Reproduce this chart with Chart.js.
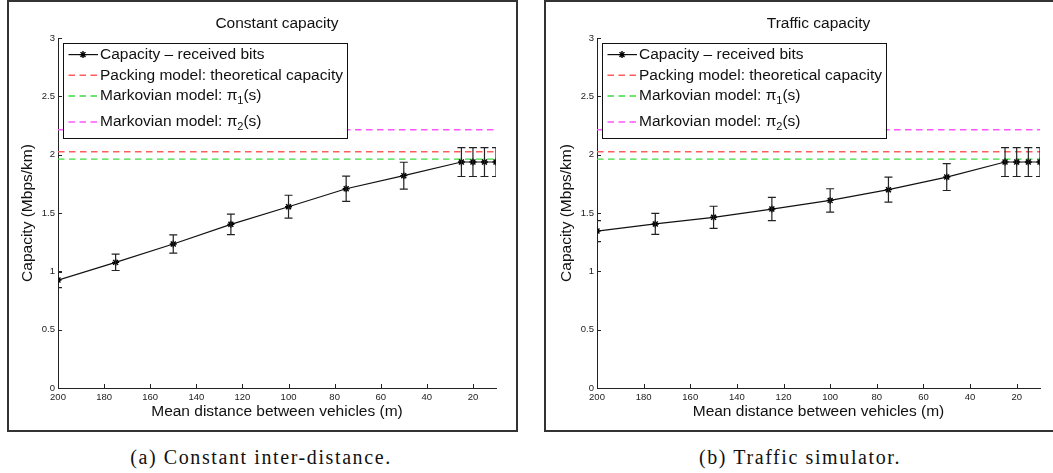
<!DOCTYPE html>
<html>
<head>
<meta charset="utf-8">
<script src="https://cdn.jsdelivr.net/npm/chart.js@4.4.1/dist/chart.umd.min.js"></script>
<style>
  body { margin:0; background:#fff; width:1053px; height:473px; overflow:hidden; position:relative; }
  .panel { position:absolute; top:0; height:432px; border:2px solid #333; box-sizing:border-box; background:#fff; }
  .panel canvas { position:absolute; left:0; top:0; }
  .caption { position:absolute; top:446px; font-family:"Liberation Serif", serif; font-size:20px; letter-spacing:1.6px;
             transform:translateX(-50%); white-space:nowrap; color:#111; }
</style>
</head>
<body>
<div class="panel" style="left:7px;width:511px;"><canvas id="chartA" width="507" height="428"></canvas></div>
<div class="panel" style="left:544px;width:520px;"><canvas id="chartB" width="507" height="428"></canvas></div>
<div class="caption" style="left:261px;">(a) Constant inter-distance.</div>
<div class="caption" style="left:800px;">(b) Traffic simulator.</div>
<script>
// mean distance between vehicles (m)
const distances = [200, 175, 150, 125, 100, 75, 50, 25, 20, 15, 10];

// (a) constant inter-distance
const constCapacity = [0.925, 1.077, 1.234, 1.403, 1.554, 1.708, 1.82, 1.937, 1.937, 1.937, 1.937];
const constError    = [0.065, 0.07, 0.078, 0.088, 0.098, 0.108, 0.115, 0.124, 0.124, 0.124, 0.124];

// (b) traffic simulator
const trafficCapacity = [1.345, 1.406, 1.463, 1.534, 1.608, 1.70, 1.808, 1.937, 1.937, 1.937, 1.937];
const trafficError    = [0.09, 0.09, 0.095, 0.1, 0.1, 0.107, 0.115, 0.124, 0.124, 0.124, 0.124];

// model levels
const packingCapacity = 2.025;
const markov1Capacity = 1.962;
const markov2Capacity = 2.214;

const xTicks = [200, 180, 160, 140, 120, 100, 80, 60, 40, 20];
const yTicks = [0, 0.5, 1, 1.5, 2, 2.5, 3];

const labels = ['Capacity \u2013 received bits', 'Packing model: theoretical capacity',
                'Markovian model: \u03c0\u2081(s)', 'Markovian model: \u03c0\u2082(s)'];

const FONT = '"Liberation Sans", Arial, sans-serif';
const SUBS = { '\u2081': '1', '\u2082': '2' };

// draws text with unicode subscripts lowered, returns width
function richText(ctx, text, x, y, draw) {
  let w = 0;
  for (const ch of text) {
    const sub = SUBS[ch];
    ctx.font = sub ? '11px ' + FONT : '15.5px ' + FONT;
    const c = sub || ch;
    if (draw) ctx.fillText(c, x + w, sub ? y + 5 : y);
    w += ctx.measureText(c).width;
  }
  return w;
}

const framePlugin = {
  id: 'frame',
  afterDatasetsDraw(chart, args, opts) {
    const ctx = chart.ctx, xs = chart.scales.x, ys = chart.scales.y, a = chart.chartArea;

    // error bars
    ctx.save();
    ctx.beginPath();
    ctx.rect(a.left, a.top - 1, a.right - a.left, a.bottom - a.top + 2);
    ctx.clip();
    ctx.strokeStyle = '#222';
    ctx.lineWidth = 1.2;
    opts.values.forEach((v, i) => {
      const px = xs.getPixelForValue(distances[i]);
      const t = ys.getPixelForValue(v + opts.errors[i]);
      const b = ys.getPixelForValue(v - opts.errors[i]);
      ctx.beginPath();
      ctx.moveTo(px, t); ctx.lineTo(px, b);
      ctx.moveTo(px - 4, t); ctx.lineTo(px + 4, t);
      ctx.moveTo(px - 4, b); ctx.lineTo(px + 4, b);
      ctx.stroke();
    });
    ctx.restore();

    // inward tick marks
    ctx.save();
    ctx.strokeStyle = '#222';
    ctx.lineWidth = 1;
    ctx.beginPath();
    xTicks.forEach(v => {
      const px = Math.round(xs.getPixelForValue(v)) + 0.5;
      ctx.moveTo(px, a.bottom); ctx.lineTo(px, a.bottom - 4);
    });
    yTicks.forEach(v => {
      const py = Math.round(ys.getPixelForValue(v)) + 0.5;
      ctx.moveTo(a.left, py); ctx.lineTo(a.left + 4, py);
    });
    ctx.stroke();

    // legend
    const lx = a.left + 5, ly = a.top + 5;
    let maxW = 0;
    labels.forEach(t => { maxW = Math.max(maxW, richText(ctx, t, 0, 0, false)); });
    const rows = [];
    let y = ly + 11.6;
    labels.forEach(t => {
      rows.push(y);
      y += 20.7 + (/[\u2081\u2082]/.test(t) ? 5.3 : 0);
    });
    const lw = 37 + maxW + 4, lh = rows[rows.length - 1] - ly + 15.6;
    ctx.fillStyle = '#fff';
    ctx.fillRect(lx, ly, lw, lh);
    ctx.strokeStyle = '#111';
    ctx.lineWidth = 1;
    ctx.strokeRect(Math.round(lx) + 0.5, Math.round(ly) + 0.5, Math.round(lw), Math.round(lh));
    chart.data.datasets.forEach((ds, i) => {
      const ry = rows[i];
      ctx.save();
      ctx.strokeStyle = ds.borderColor;
      ctx.lineWidth = ds.borderWidth;
      ctx.setLineDash(ds.borderDash || []);
      ctx.beginPath();
      ctx.moveTo(lx + 5.5, ry); ctx.lineTo(lx + 35, ry);
      ctx.stroke();
      ctx.restore();
      if (ds.pointRadius) {
        ctx.strokeStyle = '#000';
        ctx.lineWidth = ds.pointBorderWidth;
        Chart.helpers.drawPoint(ctx, { pointStyle: 'star', radius: ds.pointRadius, borderWidth: ds.pointBorderWidth }, lx + 20, ry);
      }
      ctx.fillStyle = '#111';
      ctx.textBaseline = 'middle';
      ctx.textAlign = 'left';
      richText(ctx, ds.label, lx + 37, ry, true);
    });

    // titles
    const cx = (a.left + a.right) / 2;
    ctx.fillStyle = '#111';
    ctx.textAlign = 'center';
    ctx.textBaseline = 'middle';
    ctx.font = '15.5px ' + FONT;
    ctx.fillText(opts.title, cx, 22);
    ctx.fillText('Mean distance between vehicles (m)', cx, a.bottom + 24);
    ctx.translate(a.left - 30, (a.top + a.bottom) / 2);
    ctx.rotate(-Math.PI / 2);
    ctx.fillText('Capacity (Mbps/km)', 0, 0);
    ctx.restore();
  }
};

function makeChart(id, title, values, errors, plotLeft, plotRight) {
  const canvas = document.getElementById(id);
  const W = canvas.width, H = canvas.height;
  const level = v => [{ x: 200, y: v }, { x: 10, y: v }];
  return new Chart(canvas, {
    type: 'line',
    data: {
      datasets: [
        { label: labels[0], data: distances.map((d, i) => ({ x: d, y: values[i] })),
          borderColor: '#111', borderWidth: 1.2, pointStyle: 'star', pointRadius: 3.5,
          pointBorderWidth: 1.4, pointBorderColor: '#000', pointBackgroundColor: '#000' },
        { label: labels[1], data: level(packingCapacity), borderColor: '#ff5c5c', borderWidth: 1.5,
          borderDash: [6.5, 4.5], pointRadius: 0 },
        { label: labels[2], data: level(markov1Capacity), borderColor: '#3fdc3f', borderWidth: 1.3,
          borderDash: [6.5, 4.5], pointRadius: 0 },
        { label: labels[3], data: level(markov2Capacity), borderColor: '#ff55ff', borderWidth: 1.5,
          borderDash: [6.5, 4.5], pointRadius: 0 }
      ]
    },
    options: {
      responsive: false,
      animation: false,
      devicePixelRatio: 1,
      layout: { padding: { top: 36, right: W - plotRight, left: 0, bottom: 0 } },
      plugins: {
        legend: { display: false },
        tooltip: { enabled: false },
        frame: { title: title, values: values, errors: errors }
      },
      scales: {
        x: {
          type: 'linear', min: 10, max: 200, reverse: true,
          afterBuildTicks: s => { s.ticks = xTicks.map(v => ({ value: v })); },
          afterFit: s => { s.height = H - 386; },
          grid: { display: false, drawTicks: false },
          border: { display: true, color: '#222', width: 1 },
          ticks: { font: { family: FONT, size: 9.5 }, color: '#222', padding: 4, maxRotation: 0,
                   autoSkip: false, callback: v => String(v) }
        },
        y: {
          type: 'linear', min: 0, max: 3,
          afterBuildTicks: s => { s.ticks = yTicks.map(v => ({ value: v })); },
          afterFit: s => { s.width = plotLeft; },
          grid: { display: false, drawTicks: false },
          border: { display: true, color: '#222', width: 1 },
          ticks: { font: { family: FONT, size: 9.5 }, color: '#222', padding: 3, callback: v => String(v) }
        }
      }
    },
    plugins: [framePlugin]
  });
}

makeChart('chartA', 'Constant capacity', constCapacity, constError, 49, 487);
makeChart('chartB', 'Traffic capacity', trafficCapacity, trafficError, 51, 494);
</script>
</body>
</html>
